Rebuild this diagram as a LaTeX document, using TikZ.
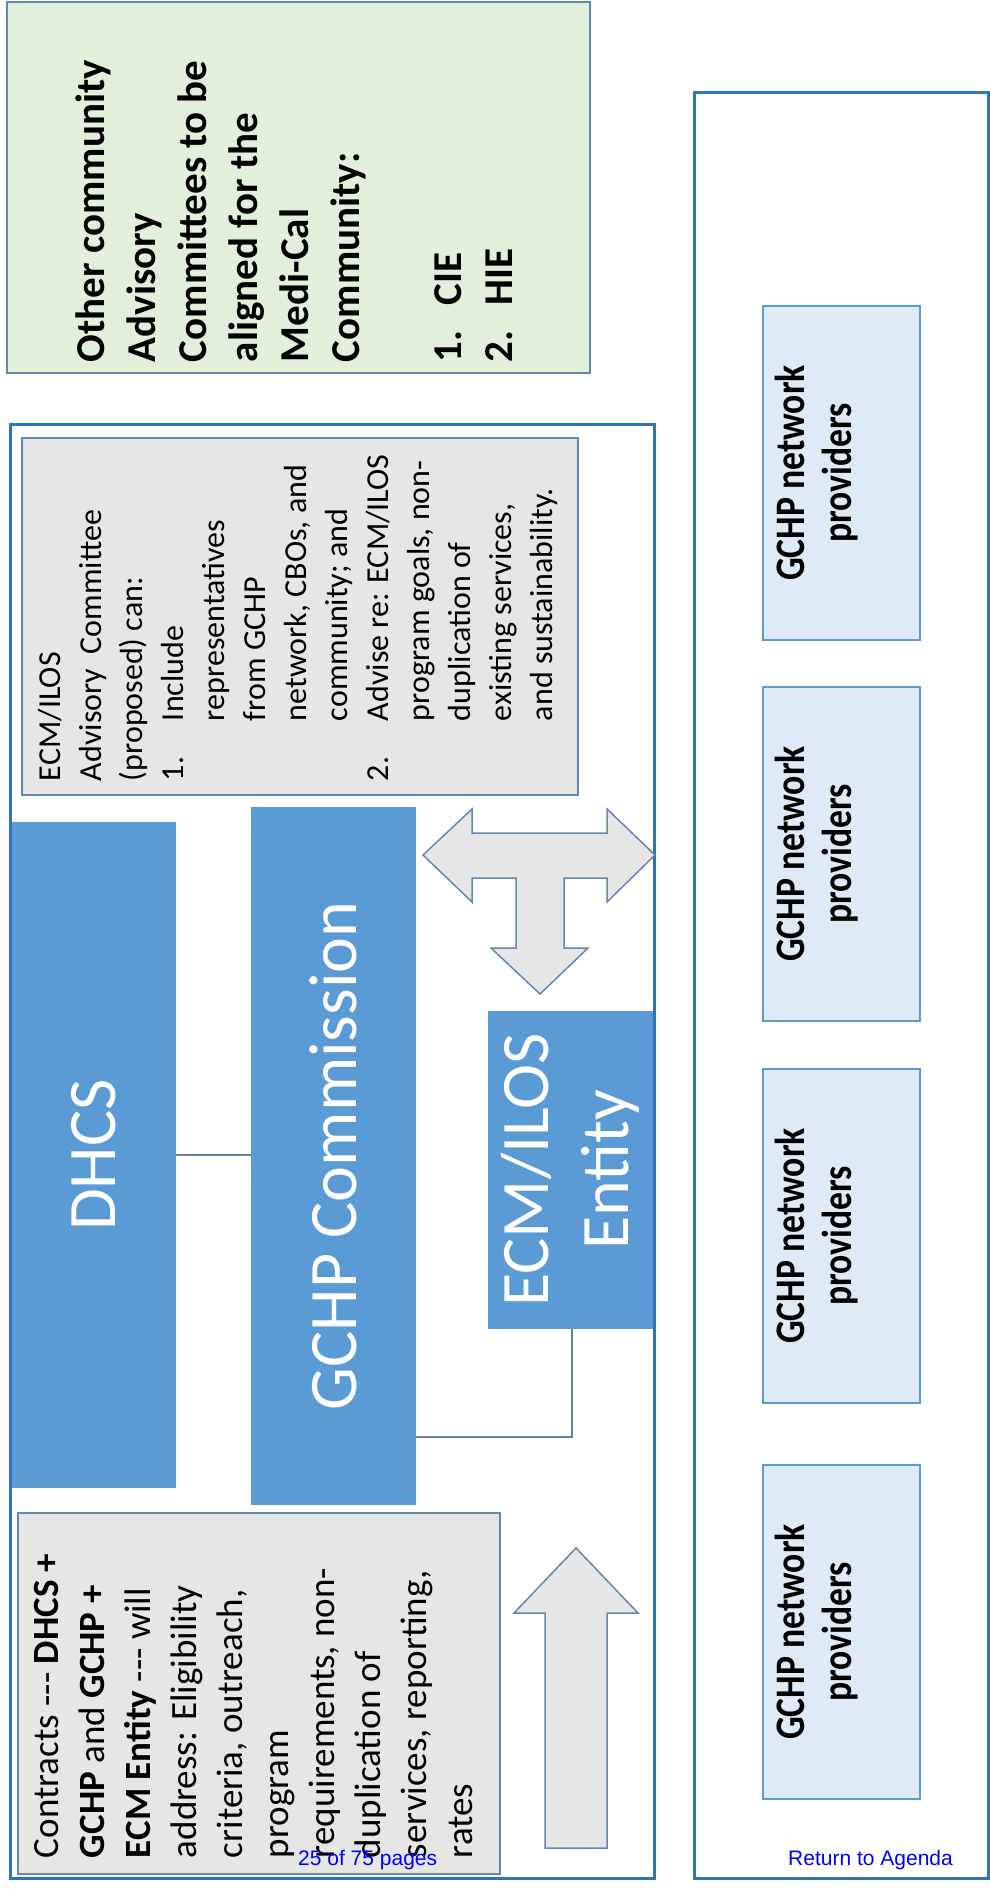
\documentclass[tikz,border=0pt]{standalone}
\usepackage{fontspec}
\setmainfont{Carlito}
\newfontfamily\provfont{Carlito}[FakeStretch=0.85]
\newfontfamily\arialfont{Liberation Sans}
\definecolor{fillblue}{RGB}{91,155,213}
\definecolor{outerblue}{RGB}{46,117,182}
\definecolor{grayborder}{RGB}{100,135,175}
\definecolor{graybg}{RGB}{231,230,230}
\definecolor{greenbg}{RGB}{226,239,218}
\definecolor{provbg}{RGB}{222,235,247}
\definecolor{connblue}{RGB}{90,130,175}
\definecolor{linkblue}{RGB}{0,0,255}
\begin{document}
\begin{tikzpicture}[x=1pt,y=-1pt,
  rect/.style={inner sep=0pt, outer sep=0pt, anchor=north west},
  outerbox/.style={rect, draw=outerblue, line width=3pt, fill=white},
  greenbox/.style={rect, draw=grayborder, line width=2pt, fill=greenbg},
  graybox/.style={rect, draw=grayborder, line width=2pt, fill=graybg},
  bluebox/.style={rect, fill=fillblue},
  provbox/.style={rect, draw=fillblue, line width=2.5pt, fill=provbg, minimum width=157pt, minimum height=334pt},
  conn/.style={draw=connblue, line width=2pt},
  bigarrow/.style={draw=grayborder, line width=1.5pt, fill=graybg, line join=miter},
  rtext/.style={rotate=90, inner sep=0pt, outer sep=0pt},
  bigwhite/.style={rtext, text=white, align=center, font=\fontsize{68pt}{80pt}\selectfont},
  provtext/.style={rtext, align=center, font=\provfont\bfseries\fontsize{42pt}{47pt}\selectfont},
  linktext/.style={inner sep=0pt, anchor=base west, text=linkblue, font=\arialfont\fontsize{21pt}{25pt}\selectfont}
]
\useasboundingbox (0,0) rectangle (989,1889);

% boxes
\node[greenbox, minimum width=583pt, minimum height=371pt] (green) at (7,2) {};
\node[outerbox, minimum width=644pt, minimum height=1454pt] (left) at (10,424) {};
\node[outerbox, minimum width=294pt, minimum height=1785pt] (right) at (694,93) {};
\node[graybox, minimum width=556pt, minimum height=357pt] (advis) at (22,438) {};
\node[bluebox, minimum width=164pt, minimum height=666pt] (dhcs) at (12,822) {};
\node[bluebox, minimum width=165pt, minimum height=698pt] (gchp) at (251,807) {};
\node[bluebox, minimum width=165pt, minimum height=318pt] (entity) at (488,1011) {};
\node[graybox, minimum width=482pt, minimum height=361pt] (contracts) at (18,1513) {};
\node[provbox] (p1) at (763,306) {};
\node[provbox] (p2) at (763,687) {};
\node[provbox] (p3) at (763,1069) {};
\node[provbox] (p4) at (763,1465) {};

% connectors
\draw[conn] (dhcs.east) -- (dhcs.east -| gchp.west);
\coordinate (c1) at (572,1437);
\draw[conn] (gchp.east |- c1) -- (c1) -- (c1 |- entity.south);

% T arrow
\draw[bigarrow] (423,855) -- (472,809) -- (472,833) -- (607,833) -- (607,809) -- (655,855)
  -- (607,902) -- (607,878) -- (564,878) -- (564,948) -- (588,948) -- (540,994)
  -- (491,948) -- (516,948) -- (516,878) -- (472,878) -- (472,902) -- cycle;
% up arrow
\draw[bigarrow] (576,1548) -- (638,1613) -- (607,1613) -- (607,1848) -- (545,1848)
  -- (545,1613) -- (514,1613) -- cycle;

% texts
\node[rtext, anchor=north west, align=left, font=\bfseries\fontsize{41pt}{51pt}\selectfont] (gtxt) at (76,362)
  {Other community\\Advisory\\Committees to be\\aligned for the\\Medi-Cal\\Community:\\[51pt]
   \makebox[57pt][l]{1.}CIE\\\makebox[57pt][l]{2.}HIE};

\node[rtext, anchor=north west, align=left, font=\fontsize{32pt}{41pt}\selectfont] (atxt) at (38,781)
  {ECM/ILOS\\Advisory\ \ Committee\\(proposed) can:\\
   \makebox[60pt][l]{1.}Include\\\hspace*{60pt}representatives\\\hspace*{60pt}from GCHP\\
   \hspace*{60pt}network, CBOs, and\\\hspace*{60pt}community; and\\
   \makebox[60pt][l]{2.}Advise re: ECM/ILOS\\\hspace*{60pt}program goals, non-\\
   \hspace*{60pt}duplication of\\\hspace*{60pt}existing services,\\\hspace*{60pt}and sustainability.};

\node[rtext, anchor=north west, align=left, font=\fontsize{37pt}{46pt}\selectfont] (ctxt) at (34,1858)
  {Contracts -{}-{}- \textbf{DHCS +}\\\textbf{GCHP} and \textbf{GCHP +}\\\textbf{ECM Entity} -{}-{}- will\\
   address: Eligibility\\criteria, outreach,\\program\\requirements, non-\\duplication of\\
   services, reporting,\\rates};

\node[bigwhite] (dhcstxt) at (dhcs.center) {DHCS};
\node[bigwhite] (gchptxt) at (gchp.center) {GCHP Commission};
\node[bigwhite] (enttxt) at (entity.center) {ECM/ILOS\\Entity};

\node[provtext] (pt1) at ([xshift=-25pt]p1.center) {GCHP network\\providers};
\node[provtext] (pt2) at ([xshift=-25pt]p2.center) {GCHP network\\providers};
\node[provtext] (pt3) at ([xshift=-25pt]p3.center) {GCHP network\\providers};
\node[provtext] (pt4) at ([xshift=-25pt]p4.center) {GCHP network\\providers};

\node[linktext] (pages) at (298,1865) {25 of 75 pages};
\node[linktext] (agenda) at (788,1865) {Return to Agenda};
\end{tikzpicture}
\end{document}
